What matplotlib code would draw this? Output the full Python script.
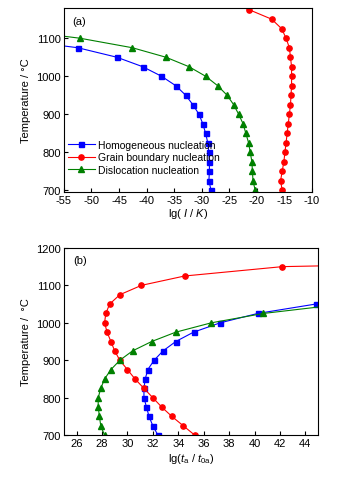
import numpy as np
import matplotlib
matplotlib.use("Agg")
import matplotlib.pyplot as plt

plt.rcParams['font.family'] = ['Liberation Sans', 'DejaVu Sans']
plt.rcParams['mathtext.fontset'] = 'custom'
plt.rcParams['mathtext.it'] = 'Liberation Sans:italic'
plt.rcParams['mathtext.rm'] = 'Liberation Sans'
plt.rcParams['axes.unicode_minus'] = False

# (a) nucleation rate, lg(I/K) vs temperature
temp_a = [700, 725, 750, 775, 800, 825, 850, 875, 900, 925, 950, 975, 1000, 1025, 1050, 1075, 1100, 1125, 1150, 1175, 1200]
homo_a = [-28.3, -28.7, -28.6, -28.6, -28.7, -28.9, -29.3, -29.8, -30.5, -31.6, -32.9, -34.7, -37.3, -40.7, -45.4, -52.5, -66.0]
grain_a = [-15.4, -15.7, -15.4, -15.1, -14.9, -14.7, -14.5, -14.3, -14.1, -13.9, -13.8, -13.7, -13.7, -13.7, -13.9, -14.1, -14.7, -15.5, -17.3, -21.4, -26.0]
disl_a = [-20.3, -20.7, -20.8, -20.9, -21.2, -21.5, -22.0, -22.5, -23.3, -24.2, -25.4, -27.1, -29.3, -32.3, -36.5, -42.6, -52.1, -66.0]

# (b) incubation time, lg(ta/t0a) vs temperature
temp_b = [700, 725, 750, 775, 800, 825, 850, 875, 900, 925, 950, 975, 1000, 1025, 1050, 1075, 1100, 1125, 1150, 1175]
homo_b = [32.4, 32.0, 31.7, 31.5, 31.3, 31.3, 31.4, 31.6, 32.1, 32.8, 33.8, 35.2, 37.3, 40.25, 44.8, 60.0]
grain_b = [35.3, 34.4, 33.5, 32.7, 32.0, 31.3, 30.6, 30.0, 29.4, 29.0, 28.7, 28.4, 28.2, 28.3, 28.6, 29.4, 31.1, 34.5, 42.2, 80.0]
disl_b = [28.2, 27.9, 27.8, 27.7, 27.7, 27.9, 28.2, 28.7, 29.4, 30.4, 31.9, 33.8, 36.6, 40.7, 47.0]

blue = '#0000ff'
red = '#ff0000'
green = '#008000'
fs = 8

fig = plt.figure(figsize=(3.38, 4.89), dpi=100)
ax1 = fig.add_axes([0.189, 0.605, 0.734, 0.377])
ax2 = fig.add_axes([0.189, 0.108, 0.752, 0.383])

lw = 0.8
ax1.plot(homo_a, temp_a[:len(homo_a)], '-s', color=blue, lw=lw, ms=3.6, label='Homogeneous nucleation')
ax1.plot(grain_a, temp_a[:len(grain_a)], '-o', color=red, lw=lw, ms=3.8, label='Grain boundary nucleation')
ax1.plot(disl_a, temp_a[:len(disl_a)], '-^', color=green, lw=lw, ms=4.2, label='Dislocation nucleation')
ax1.set_xlim(-55, -10)
ax1.set_ylim(695, 1180)
ax1.set_xticks(np.arange(-55, -9, 5))
ax1.set_yticks([700, 800, 900, 1000, 1100])
ax1.set_xlabel('lg( $I$ / $K$)', fontsize=fs, labelpad=1)
ax1.set_ylabel('Temperature / °C', fontsize=fs, labelpad=4)
ax1.text(0.035, 0.955, '(a)', transform=ax1.transAxes, fontsize=fs, va='top')
ax1.legend(loc='lower left', bbox_to_anchor=(-0.01, 0.06), frameon=False, fontsize=7.5,
           handlelength=2.6, handletextpad=0.3, labelspacing=0.25, borderaxespad=0.2)

ax2.plot(homo_b, temp_b[:len(homo_b)], '-s', color=blue, lw=lw, ms=3.6)
ax2.plot(grain_b, temp_b[:len(grain_b)], '-o', color=red, lw=lw, ms=3.8)
ax2.plot(disl_b, temp_b[:len(disl_b)], '-^', color=green, lw=lw, ms=4.2)
ax2.set_xlim(25, 45)
ax2.set_ylim(700, 1200)
ax2.set_xticks(np.arange(26, 45, 2))
ax2.set_yticks(np.arange(700, 1201, 100))
ax2.set_xlabel(r'lg($t_{\rm a}$ / $t_{\rm 0a}$)', fontsize=fs, labelpad=2)
ax2.set_ylabel('Temperature /  °C', fontsize=fs, labelpad=4)
ax2.text(0.035, 0.96, '(b)', transform=ax2.transAxes, fontsize=fs, va='top')

for ax in (ax1, ax2):
    ax.tick_params(direction='in', length=3, width=0.8, labelsize=fs, pad=2)
    for s in ax.spines.values():
        s.set_linewidth(0.8)

fig.savefig('out.png', dpi=100)
